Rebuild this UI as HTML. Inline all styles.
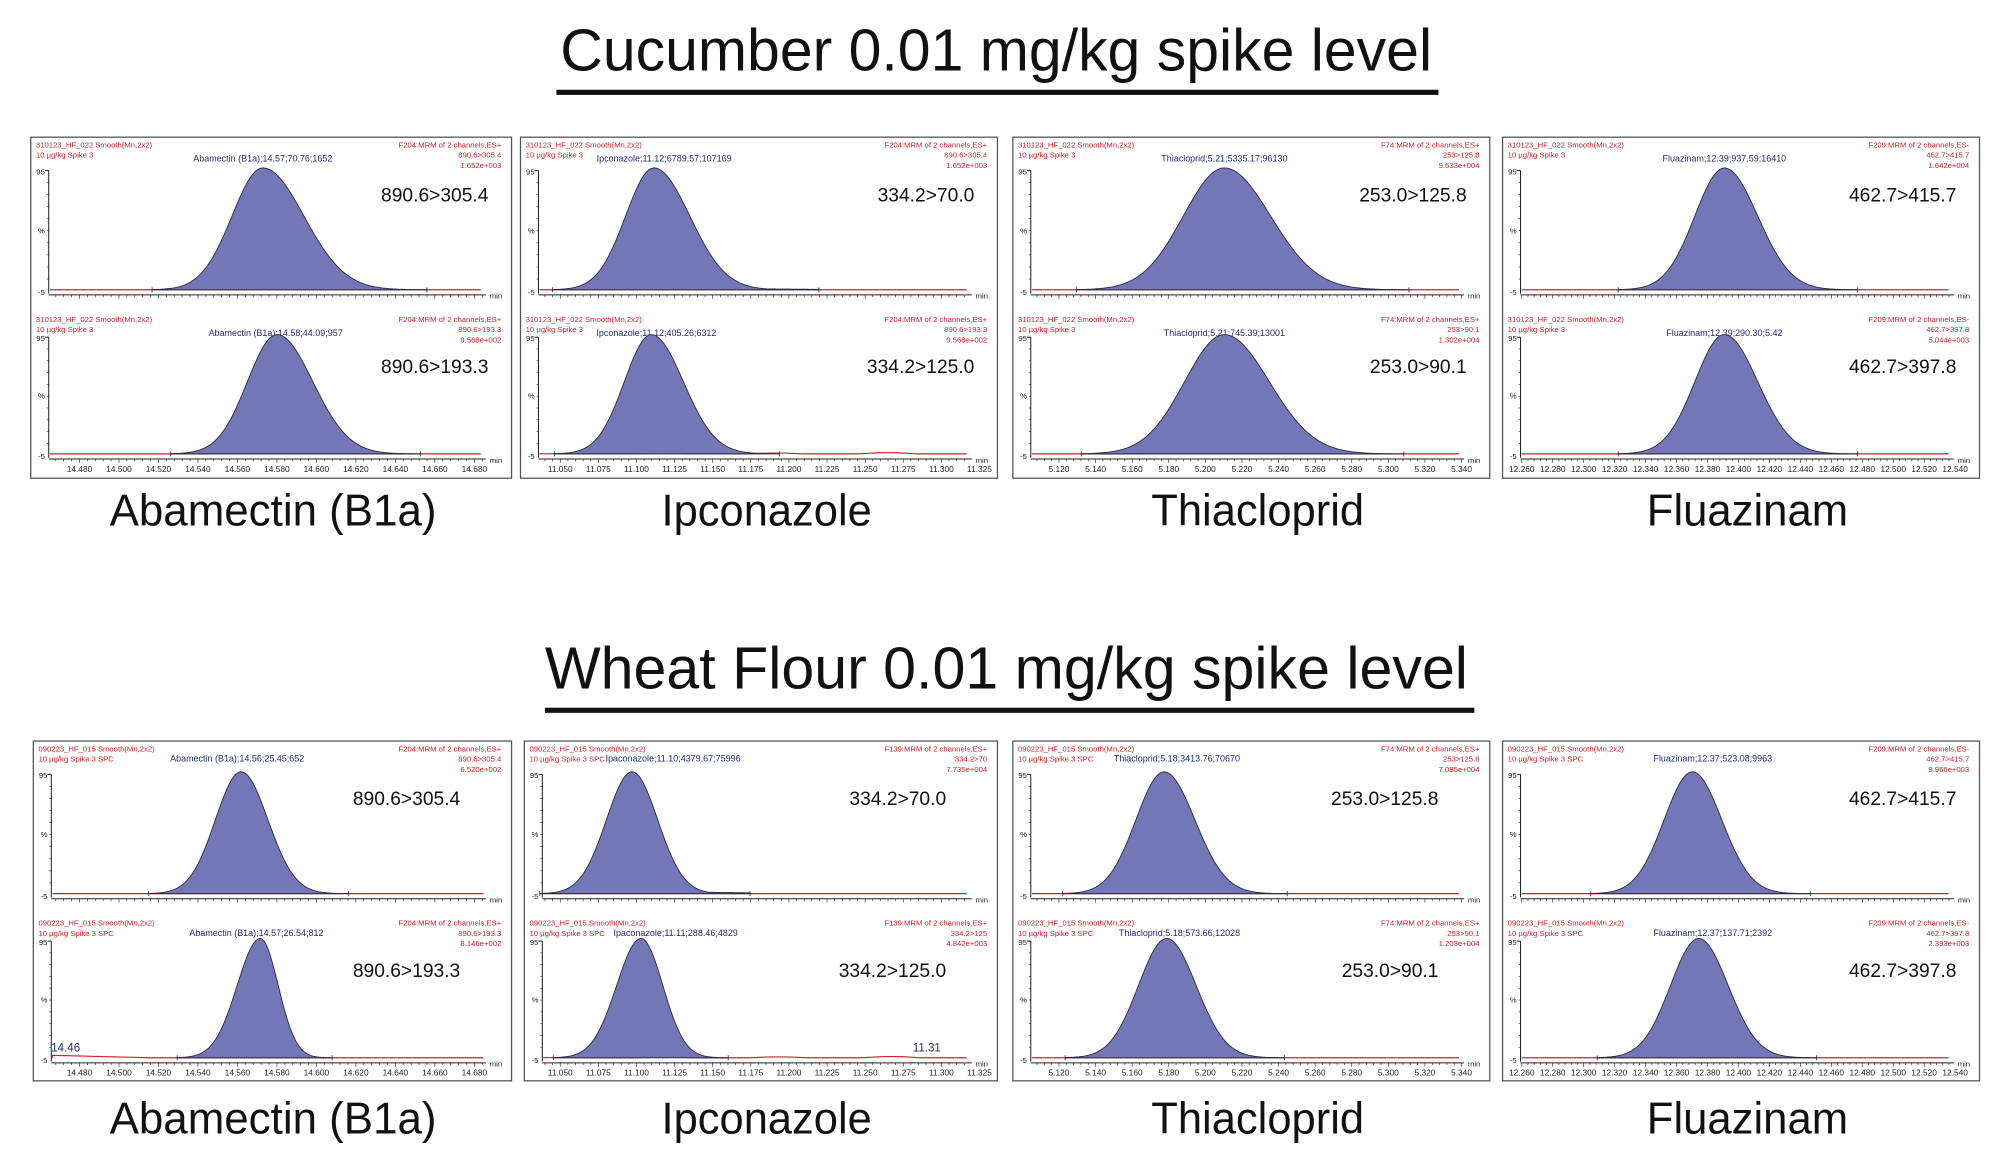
<!DOCTYPE html>
<html><head><meta charset="utf-8"><style>
html,body{margin:0;padding:0;background:#fff;width:2000px;height:1168px;overflow:hidden}
svg{display:block}
</style></head><body>
<svg id="s" width="2000" height="1168" viewBox="0 0 1560 911" preserveAspectRatio="none" xmlns="http://www.w3.org/2000/svg" font-family="'Liberation Sans', Arial, sans-serif">
<rect width="1560" height="911" fill="#fff"/>
<text x="777" y="55" font-size="46" text-anchor="middle" textLength="680" lengthAdjust="spacingAndGlyphs" fill="#111">Cucumber 0.01 mg/kg spike level</text>
<rect x="434" y="70" width="688" height="4" fill="#111"/>
<text x="785" y="537" font-size="46" text-anchor="middle" textLength="720" lengthAdjust="spacingAndGlyphs" fill="#111">Wheat Flour 0.01 mg/kg spike level</text>
<rect x="425" y="552" width="725" height="4" fill="#111"/>
<g id="g"></g>
</svg>
<script>
const NS="http://www.w3.org/2000/svg";const G=document.getElementById('g');
function el(t,a,txt){const e=document.createElementNS(NS,t);for(const k in a)e.setAttribute(k,a[k]);if(txt!==undefined)e.textContent=txt;G.appendChild(e);return e;}
function txt(x,y,s,sz,fill,anchor,extra){const a={x:x,y:y,'font-size':sz,fill:fill,'text-anchor':anchor||'start'};if(extra)Object.assign(a,extra);return el('text',a,s);}
const cols=[
 {ticks:["14.480","14.500","14.520","14.540","14.560","14.580","14.600","14.620","14.640","14.660","14.680"],tx:[62,370],name:"Abamectin (B1a)",lx:213,lw:255},
 {ticks:["11.050","11.075","11.100","11.125","11.150","11.175","11.200","11.225","11.250","11.275","11.300","11.325"],tx:[437,764],name:"Ipconazole",lx:598,lw:164},
 {ticks:["5.120","5.140","5.160","5.180","5.200","5.220","5.240","5.260","5.280","5.300","5.320","5.340"],tx:[826,1140],name:"Thiacloprid",lx:981,lw:166},
 {ticks:["12.260","12.280","12.300","12.320","12.340","12.360","12.380","12.400","12.420","12.440","12.460","12.480","12.500","12.520","12.540"],tx:[1187,1525],name:"Fluazinam",lx:1363,lw:157}
];
const rows=[
 {y0:107,y1:373,ly:410,xs:[[24,399],[406,778],[790,1162],[1172,1544]],
  h1:"310123_HF_022 Smooth(Mn,2x2)",h2:"10 µg/kg Spike 3",
  subs:[
   [{ax:205,sl:24,sr:32,t:"890.6>305.4",n:"Abamectin (B1a);14.57;70.76;1652",nx:205,f:"F204:MRM of 2 channels,ES+",m:"890.6>305.4",e:"1.652e+003"},
    {ax:216,sl:23,sr:28,t:"890.6>193.3",n:"Abamectin (B1a);14.58;44.09;957",nx:215,f:"F204:MRM of 2 channels,ES+",m:"890.6>193.3",e:"9.568e+002"}],
   [{ax:510,sl:22,sr:28,t:"334.2>70.0",n:"Ipconazole;11.12;6789.57;107169",nx:518,f:"F204:MRM of 2 channels,ES+",m:"890.6>305.4",e:"1.652e+003",tl:1},
    {ax:508,sl:21,sr:25,t:"334.2>125.0",n:"Ipconazole;11.12;405.26;6312",nx:512,f:"F204:MRM of 2 channels,ES+",m:"890.6>193.3",e:"9.568e+002",bump:1}],
   [{ax:955,sl:32,sr:36,t:"253.0>125.8",n:"Thiacloprid;5.21;5335.17;96130",nx:955,f:"F74:MRM of 2 channels,ES+",m:"253>125.8",e:"9.633e+004"},
    {ax:955,sl:31,sr:35,t:"253.0>90.1",n:"Thiacloprid;5.21;745.39;13001",nx:955,f:"F74:MRM of 2 channels,ES+",m:"253>90.1",e:"1.302e+004"}],
   [{ax:1345,sl:23,sr:26,t:"462.7>415.7",n:"Fluazinam;12.39;937.59;16410",nx:1345,f:"F209:MRM of 2 channels,ES-",m:"462.7>415.7",e:"1.642e+004"},
    {ax:1345,sl:23,sr:26,t:"462.7>397.8",n:"Fluazinam;12.39;290.30;5.42",nx:1345,f:"F209:MRM of 2 channels,ES-",m:"462.7>397.8",e:"5.044e+003"}]
  ]},
 {y0:578,y1:843,ly:884,xs:[[26,399],[409,778],[790,1162],[1172,1544]],
  h1:"090223_HF_015 Smooth(Mn,2x2)",h2:"10 µg/kg Spike 3 SPC",
  subs:[
   [{ax:188,sl:20,sr:21,t:"890.6>305.4",n:"Abamectin (B1a);14.56;25.45;652",nx:185,f:"F204:MRM of 2 channels,ES+",m:"890.6>305.4",e:"6.520e+002"},
    {ax:203,sl:18,sr:14,t:"890.6>193.3",n:"Abamectin (B1a);14.57;26.54;812",nx:200,f:"F204:MRM of 2 channels,ES+",m:"890.6>193.3",e:"8.146e+002",lab:["14.46",40]}],
   [{ax:493,sl:20,sr:20,t:"334.2>70.0",n:"Ipaconazole;11.10;4379.67;75996",nx:525,f:"F139:MRM of 2 channels,ES+",m:"334.2>70",e:"7.735e+004",tl:1},
    {ax:500,sl:19,sr:17,t:"334.2>125.0",n:"Ipaconazole;11.11;288.46;4829",nx:527,f:"F139:MRM of 2 channels,ES+",m:"334.2>125",e:"4.842e+003",bump:1,lab:["11.31",712]}],
   [{ax:908,sl:22,sr:24,t:"253.0>125.8",n:"Thiacloprid;5.18;3413.76;70670",nx:918,f:"F74:MRM of 2 channels,ES+",m:"253>125.8",e:"7.085e+004"},
    {ax:910,sl:22,sr:23,t:"253.0>90.1",n:"Thiacloprid;5.18;573.66;12028",nx:920,f:"F74:MRM of 2 channels,ES+",m:"253>90.1",e:"1.203e+004"}],
   [{ax:1320,sl:22,sr:23,t:"462.7>415.7",n:"Fluazinam;12.37;523.08;9963",nx:1336,f:"F209:MRM of 2 channels,ES-",m:"462.7>415.7",e:"9.966e+003"},
    {ax:1325,sl:22,sr:23,t:"462.7>397.8",n:"Fluazinam;12.37;137.71;2392",nx:1336,f:"F209:MRM of 2 channels,ES-",m:"462.7>397.8",e:"2.393e+003"}]
  ]}
];
const RED="#d0202a",BLUE="#1f2a6b";
rows.forEach((r,ri)=>{
 r.xs.forEach((xx,ci)=>{
  const x0=xx[0],x1=xx[1],c=cols[ci],s=r.subs[ci];
  el('rect',{x:x0,y:r.y0,width:x1-x0,height:r.y1-r.y0,fill:'none',stroke:'#555','stroke-width':1});
  const ax=x0+14,px1=x1-20;
  [[0,120],[136,248]].forEach((o,si)=>{
   const d=s[si],top=r.y0+o[0];
   const y95=r.y0+(si?156:26),yb=r.y0+o[1];
   txt(x0+4,top+8,r.h1,6,RED);txt(x0+4,top+16,r.h2,6,RED);
   txt(x1-8,top+8,d.f,6,RED,'end');txt(x1-8,top+16,d.m,6,RED,'end');txt(x1-8,top+24,d.e,6,RED,'end');
   txt(d.nx,top+(ri==1?16:19),d.n,7,BLUE,'middle');
   txt(x1-(ri==1&&ci<3?40:18),top+(si?48:50),d.t,15,'#111','end');
   el('line',{x1:ax,y1:y95,x2:ax,y2:yb+2,stroke:'#222','stroke-width':0.8});
   el('line',{x1:ax-3,y1:y95,x2:ax,y2:y95,stroke:'#222','stroke-width':0.8});
   for(let k=1;k<10;k++){const yy=y95+(yb-y95)*k/10;el('line',{x1:ax-1.5,y1:yy,x2:ax,y2:yy,stroke:'#222','stroke-width':0.5});}
   txt(ax-3,y95+3,"95",6,'#222','end');txt(ax-3,(y95+yb)/2+2,"%",6,'#222','end');txt(ax-3,yb+3,"-5",6,'#222','end');
   const ya=yb+3;
   el('line',{x1:ax,y1:ya,x2:px1,y2:ya,stroke:'#222','stroke-width':0.8});
   const n=c.ticks.length,step=(c.tx[1]-c.tx[0])/(n-1);
   for(let xt=c.tx[0]-step*3;xt<=px1;xt+=step/5){if(xt<ax)continue;const big=Math.abs(((xt-c.tx[0])/step)-Math.round((xt-c.tx[0])/step))<0.05;el('line',{x1:xt,y1:ya,x2:xt,y2:ya+(big?3:1.8),stroke:'#222','stroke-width':0.5});}
   txt(px1+3,ya+3,"min",6,'#222');
   if(si==1){c.ticks.forEach((t,k)=>txt(c.tx[0]+k*step,ya+10,t,6.5,'#222','middle'));}
   let bp="M"+(ax+1)+","+(yb-1);
   for(let x=ax+1;x<=px1-2;x+=3){let y=yb-1;if(d.bump){y-=1.2*Math.max(0,Math.sin((x-x0)/14))*((x-x0)/(x1-x0));}if(d.lab&&ci==0&&x<x0+90){y-=(x0+90-x)/40;}bp+=" L"+x+","+y.toFixed(2);}
   el('path',{d:bp,fill:'none',stroke:RED,'stroke-width':0.9});
   const H=(yb-1)-(y95-2);let pp="",first=true;
   const L=d.ax-d.sl*3.6,R=d.ax+d.sr*(d.tl?4.6:4.0);
   for(let x=L;x<=R;x+=1){const sg=x<d.ax?d.sl:d.sr;let v=Math.exp(-0.5*Math.pow((x-d.ax)/sg,2));if(d.tl&&x>d.ax)v=Math.max(v,0.03*Math.exp(-(x-d.ax)/60));const y=(yb-1)-H*v;pp+=(first?"M":" L")+x.toFixed(1)+","+y.toFixed(2);first=false;}
   pp+=" L"+R.toFixed(1)+","+(yb-1)+" L"+L.toFixed(1)+","+(yb-1)+"Z";
   el('path',{d:pp,fill:'#7377b8',stroke:'#2a2a3a','stroke-width':0.7});
   el('line',{x1:L,y1:yb-3,x2:L,y2:yb+1,stroke:'#222','stroke-width':0.6});
   el('line',{x1:R,y1:yb-3,x2:R,y2:yb+1,stroke:'#222','stroke-width':0.6});
   if(d.lab)txt(d.lab[1],yb-6,d.lab[0],9,BLUE,'start');
  });
  txt(c.lx,r.ly,c.name,35,'#111','middle',{textLength:c.lw,lengthAdjust:'spacingAndGlyphs'});
 });
});
</script>
</body></html>
